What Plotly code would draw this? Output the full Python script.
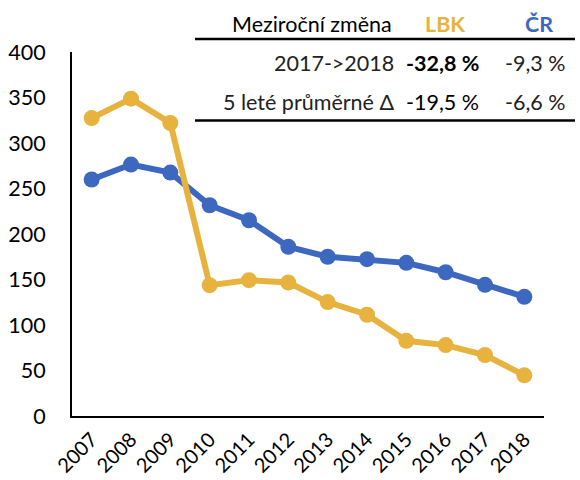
import plotly.graph_objects as go

years = ["2007", "2008", "2009", "2010", "2011", "2012", "2013", "2014", "2015", "2016", "2017", "2018"]
lbk = [327.4, 348.7, 322.0, 143.8, 149.3, 146.7, 125.2, 111.3, 82.6, 77.9, 67.0, 44.7]
cr = [259.9, 276.3, 267.5, 231.6, 215.1, 185.9, 175.0, 172.3, 168.3, 158.0, 144.1, 131.0]

table_header = ["Meziroční změna", "LBK", "ČR"]
row_labels = ["2017->2018", "5 leté průměrné Δ"]
row_lbk = ["-32,8 %", "-19,5 %"]
row_cr = ["-9,3 %", "-6,6 %"]

GOLD = "#E8B23E"
BLUE = "#3D68C0"
FONT = "Lato, 'Open Sans', sans-serif"

W, H = 580, 480
L, R, T, B = 72, 36, 51.5, 64
pw = W - L - R
ph = H - T - B


def px(x):
    return (x - L) / pw


def py(y):
    return (H - B - y) / ph


fig = go.Figure()
fig.add_trace(go.Scatter(x=years, y=cr, mode="lines+markers", name="ČR",
                         line=dict(color=BLUE, width=6),
                         marker=dict(color=BLUE, size=16)))
fig.add_trace(go.Scatter(x=years, y=lbk, mode="lines+markers", name="LBK",
                         line=dict(color=GOLD, width=6),
                         marker=dict(color=GOLD, size=16)))

FS = 21.5
ann = []
ann.append(dict(text=table_header[0], x=px(394), y=py(23), xanchor="right",
                font=dict(size=FS, color="black")))
ann.append(dict(text="<b>" + table_header[1] + "</b>", x=px(445), y=py(23), xanchor="center",
                font=dict(size=FS, color=GOLD)))
ann.append(dict(text="<b>" + table_header[2] + "</b>", x=px(539), y=py(23), xanchor="center",
                font=dict(size=FS, color=BLUE)))
row_y = [63, 102]
for i in range(2):
    ann.append(dict(text=row_labels[i], x=px(396), y=py(row_y[i]), xanchor="right",
                    font=dict(size=FS, color="#222")))
    txt = "<b>" + row_lbk[i] + "</b>" if i == 0 else row_lbk[i]
    ann.append(dict(text=txt, x=px(481), y=py(row_y[i]), xanchor="right",
                    font=dict(size=FS, color="black")))
    ann.append(dict(text=row_cr[i], x=px(568), y=py(row_y[i]), xanchor="right",
                    font=dict(size=FS, color="#222")))
for a in ann:
    a.update(xref="paper", yref="paper", yanchor="middle", showarrow=False)

shapes = []
for yy in (38.5, 120):
    shapes.append(dict(type="line", xref="paper", yref="paper",
                       x0=px(195), x1=px(575), y0=py(yy), y1=py(yy),
                       line=dict(color="black", width=2.5)))

fig.update_layout(
    width=W, height=H,
    margin=dict(l=L, r=R, t=T, b=B, pad=0, autoexpand=False),
    plot_bgcolor="white", paper_bgcolor="white",
    showlegend=False,
    font=dict(family=FONT, size=FS, color="black"),
    annotations=ann, shapes=shapes,
    xaxis=dict(type="category", range=[-0.5, len(years) - 0.5], showgrid=False,
               showline=True, linecolor="black",
               linewidth=2, tickangle=-45, ticks="outside", ticklen=2,
               tickcolor="rgba(0,0,0,0)", tickfont=dict(size=20, color="black"),
               zeroline=False, automargin=False),
    yaxis=dict(range=[0, 400], dtick=50, showgrid=False, showline=True,
               linecolor="black", linewidth=2, ticks="outside", ticklen=20,
               tickcolor="rgba(0,0,0,0)", tickfont=dict(size=FS, color="black"),
               zeroline=False, automargin=False),
)

fig.write_html("out.html", config={"displayModeBar": False},
               post_script="document.body.style.margin='0';document.body.style.overflow='hidden';")
